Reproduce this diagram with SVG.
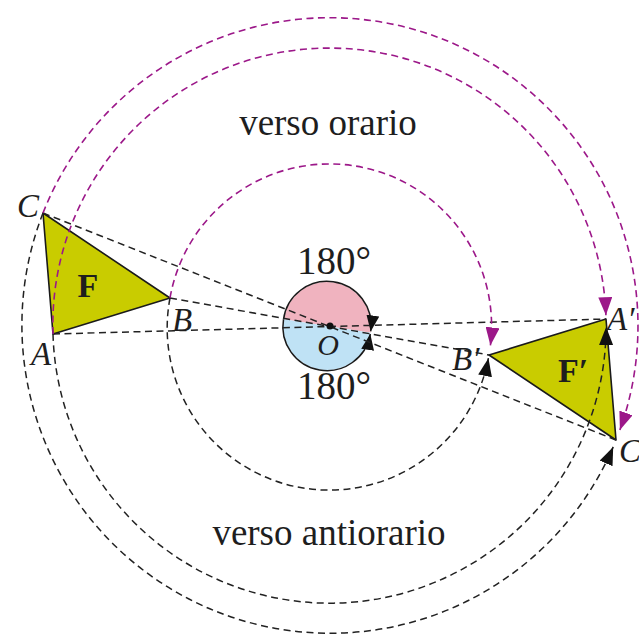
<svg xmlns="http://www.w3.org/2000/svg" width="639" height="635" viewBox="0 0 639 635">
<style>
.bg{fill:#fff}
.tri{fill:#c9cc00;stroke:#1a1a1a;stroke-width:1.6;stroke-linejoin:round}
.dl{fill:none;stroke:#222;stroke-width:1.5;stroke-dasharray:7 4.5}
.mg{fill:none;stroke:#9c1889;stroke-width:1.6;stroke-dasharray:7 4.5}
.bk{fill:none;stroke:#222;stroke-width:1.5;stroke-dasharray:7 4.5}
.t{font-family:"Liberation Serif","Times New Roman",serif;fill:#1e1e1e}
.it{font-style:italic;font-size:33px}
.big{font-size:37px}
.deg{font-size:39px}
.bold{font-weight:bold;font-size:34px}
</style>
<defs>
<marker id="amg" markerUnits="userSpaceOnUse" markerWidth="18" markerHeight="14" refX="18" refY="7" orient="auto">
<path d="M0,0 L18,7 L0,14 z" fill="#9c1889"/>
</marker>
<marker id="abk" markerUnits="userSpaceOnUse" markerWidth="18" markerHeight="14" refX="18" refY="7" orient="auto">
<path d="M0,0 L18,7 L0,14 z" fill="#111"/>
</marker>
<marker id="asm" markerUnits="userSpaceOnUse" markerWidth="16" markerHeight="13" refX="16" refY="6.5" orient="auto">
<path d="M0,0 L16,6.5 L0,13 z" fill="#111"/>
</marker>
</defs>
<rect class="bg" x="0" y="0" width="639" height="635"/>

<g id="angle">
<path d="M283.5,319.3 A44,44 0 0 1 370.5,332.7 Z" fill="#f0b3bf"/>
<path d="M370.5,332.7 A44,44 0 0 1 283.5,319.3 Z" fill="#bfe2f5"/>
<path d="M283.5,319.3 A44,44 0 0 1 370.7,331.4" fill="none" stroke="#1a1a1a" stroke-width="1.5" marker-end="url(#asm)"/>
<path d="M283.5,319.3 A44,44 0 0 0 370.3,334.0" fill="none" stroke="#1a1a1a" stroke-width="1.5" marker-end="url(#asm)"/>
</g>

<g id="triangle-F">
<polygon class="tri" points="53,334 170,298 43,213"/>
</g>
<g id="triangle-F1">
<polygon class="tri" points="606,319 489,355 616,440"/>
</g>

<g id="connectors">
<line class="dl" x1="53" y1="334" x2="606" y2="319"/>
<line class="dl" x1="170" y1="298" x2="489" y2="355"/>
<line class="dl" x1="43" y1="213" x2="616" y2="440"/>
<path class="mg" d="M43,213 A308.2,308.2 0 0 1 619.9,429.9" marker-end="url(#amg)"/>
<path class="mg" d="M53,334 A276.6,276.6 0 0 1 605.9,315.2" marker-end="url(#amg)"/>
<path class="mg" d="M170,298 A162,162 0 0 1 490.4,345.4" marker-end="url(#amg)"/>
<path class="bk" d="M43,213 A308.2,308.2 0 0 0 613.2,446.9" marker-end="url(#abk)"/>
<path class="bk" d="M53,334 A276.6,276.6 0 0 0 606.1,327.0" marker-end="url(#abk)"/>
<path class="bk" d="M170,298 A162,162 0 0 0 488.4,358.2" marker-end="url(#abk)"/>
</g>

<g id="center-O">
<circle cx="330" cy="326" r="3.5" fill="#111"/>
<text class="t" x="328" y="355" font-size="30" font-style="italic" text-anchor="middle">O</text>
</g>

<g id="labels">
<text class="t big" x="328" y="135" text-anchor="middle">verso orario</text>
<text class="t big" x="329" y="545" text-anchor="middle">verso antiorario</text>
<text class="t deg" x="334" y="274" text-anchor="middle">180°</text>
<text class="t deg" x="334" y="399" text-anchor="middle">180°</text>
<text class="t it" x="17" y="217">C</text>
<text class="t it" x="31" y="365">A</text>
<text class="t it" x="172" y="331">B</text>
<text class="t it" x="607" y="330">A′</text>
<text class="t it" x="452" y="370">B′</text>
<text class="t it" x="619" y="462">C′</text>
<text class="t bold" x="88" y="297" text-anchor="middle">F</text>
<text class="t bold" x="558" y="382">F′</text>
</g>
</svg>
